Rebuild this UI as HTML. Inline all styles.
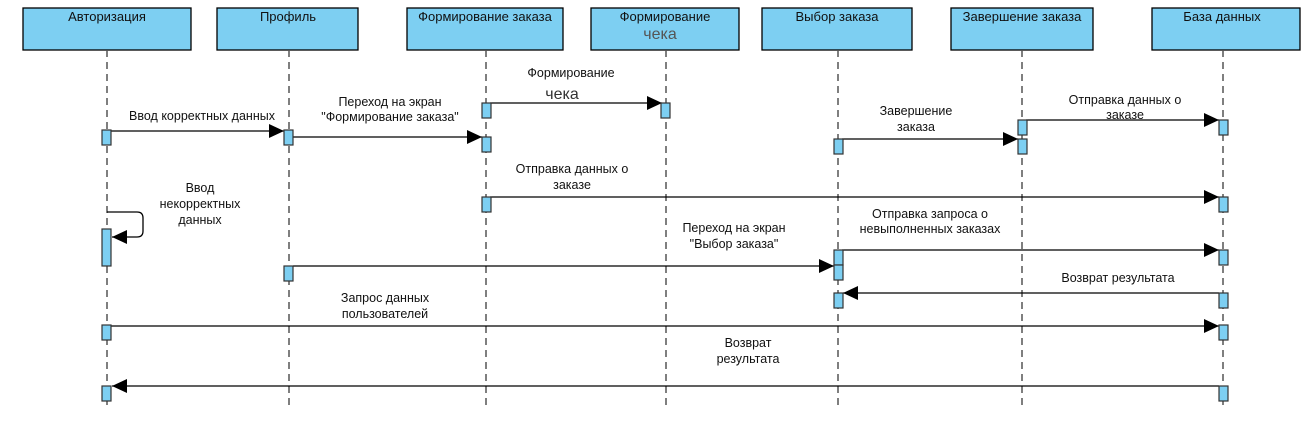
<!DOCTYPE html>
<html><head><meta charset="utf-8"><style>
html,body{margin:0;padding:0;background:#fff;}
svg{display:block;font-family:"Liberation Sans","DejaVu Sans",sans-serif;}
</style></head><body>
<svg width="1309" height="421" viewBox="0 0 1309 421" xmlns="http://www.w3.org/2000/svg">
<defs>
<marker id="a" markerWidth="15" markerHeight="14" refX="15" refY="7" orient="auto" markerUnits="userSpaceOnUse">
<path d="M0,0 L15,7 L0,14 Z" fill="#000"/></marker>
</defs>
<g fill="#7dcff2" stroke="#000" stroke-width="1.3">
<rect x="23" y="8" width="168" height="42"/>
<rect x="217" y="8" width="141" height="42"/>
<rect x="407" y="8" width="156" height="42"/>
<rect x="591" y="8" width="148" height="42"/>
<rect x="762" y="8" width="150" height="42"/>
<rect x="951" y="8" width="142" height="42"/>
<rect x="1152" y="8" width="148" height="42"/>
</g>
<g font-size="13" fill="#111" text-anchor="middle">
<text x="107" y="21">Авторизация</text>
<text x="288" y="21">Профиль</text>
<text x="485" y="21">Формирование заказа</text>
<text x="665" y="21">Формирование</text>
<text x="660" y="39" font-size="16" fill="#555">чека</text>
<text x="837" y="21">Выбор заказа</text>
<text x="1022" y="21">Завершение заказа</text>
<text x="1222" y="21">База данных</text>
</g>
<g stroke="#555" stroke-width="1.5" stroke-dasharray="7,5">
<line x1="107" y1="50" x2="107" y2="405"/>
<line x1="289" y1="50" x2="289" y2="405"/>
<line x1="486" y1="50" x2="486" y2="405"/>
<line x1="666" y1="50" x2="666" y2="405"/>
<line x1="838" y1="50" x2="838" y2="405"/>
<line x1="1022" y1="50" x2="1022" y2="405"/>
<line x1="1223" y1="50" x2="1223" y2="405"/>
</g>
<g stroke="#000" stroke-width="1.3" fill="none" marker-end="url(#a)">
<line x1="111" y1="131" x2="284" y2="131"/>
<line x1="293" y1="137" x2="482" y2="137"/>
<line x1="490" y1="103" x2="662" y2="103"/>
<line x1="842" y1="139" x2="1018" y2="139"/>
<line x1="1026" y1="120" x2="1219" y2="120"/>
<line x1="490" y1="197" x2="1219" y2="197"/>
<path d="M107,212 L137,212 Q143,212 143,218 L143,231 Q143,237 137,237 L112,237"/>
<line x1="293" y1="266" x2="834" y2="266"/>
<line x1="842" y1="250" x2="1219" y2="250"/>
<line x1="1219" y1="293" x2="843" y2="293"/>
<line x1="111" y1="326" x2="1219" y2="326"/>
<line x1="1219" y1="386" x2="112" y2="386"/>
</g>
<g fill="#7dcff2" stroke="#333" stroke-width="1.2">
<rect x="102" y="130" width="9" height="15"/>
<rect x="284" y="130" width="9" height="15"/>
<rect x="482" y="103" width="9" height="15"/>
<rect x="482" y="137" width="9" height="15"/>
<rect x="661" y="103" width="9" height="15"/>
<rect x="834" y="139" width="9" height="15"/>
<rect x="1018" y="120" width="9" height="15"/>
<rect x="1018" y="139" width="9" height="15"/>
<rect x="1219" y="120" width="9" height="15"/>
<rect x="482" y="197" width="9" height="15"/>
<rect x="1219" y="197" width="9" height="15"/>
<rect x="102" y="229" width="9" height="37"/>
<rect x="284" y="266" width="9" height="15"/>
<rect x="834" y="250" width="9" height="15"/>
<rect x="834" y="265" width="9" height="15"/>
<rect x="1219" y="250" width="9" height="15"/>
<rect x="834" y="293" width="9" height="15"/>
<rect x="1219" y="293" width="9" height="15"/>
<rect x="102" y="325" width="9" height="15"/>
<rect x="1219" y="325" width="9" height="15"/>
<rect x="102" y="386" width="9" height="15"/>
<rect x="1219" y="386" width="9" height="15"/>
</g>
<g font-size="12.5" fill="#111" text-anchor="middle">
<text x="202" y="120">Ввод корректных данных</text>
<text x="390" y="106">Переход на экран</text>
<text x="390" y="121">"Формирование заказа"</text>
<text x="571" y="77">Формирование</text>
<text x="562" y="99" font-size="16" fill="#333">чека</text>
<text x="916" y="115">Завершение</text>
<text x="916" y="131">заказа</text>
<text x="1125" y="104">Отправка данных о</text>
<text x="1125" y="119">заказе</text>
<text x="572" y="173">Отправка данных о</text>
<text x="572" y="189">заказе</text>
<text x="200" y="192">Ввод</text>
<text x="200" y="208">некорректных</text>
<text x="200" y="224">данных</text>
<text x="734" y="232">Переход на экран</text>
<text x="734" y="248">"Выбор заказа"</text>
<text x="930" y="218">Отправка запроса о</text>
<text x="930" y="233">невыполненных заказах</text>
<text x="1118" y="282">Возврат результата</text>
<text x="385" y="302">Запрос данных</text>
<text x="385" y="318">пользователей</text>
<text x="748" y="347">Возврат</text>
<text x="748" y="363">результата</text>
</g>
</svg>
</body></html>
